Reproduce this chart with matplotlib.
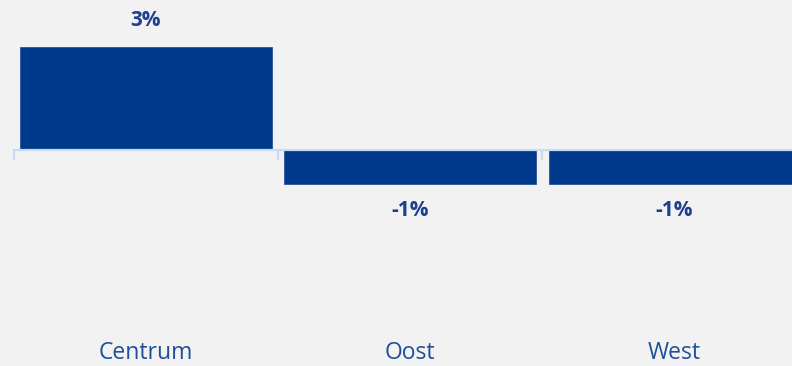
import numpy as np
import matplotlib.pyplot as plt

regios = ['Centrum', 'Oost', 'West']
groei = [3, -1, -1]
labels = ['3%', '-1%', '-1%']

bar_kleur = '#003A8C'
tekst_kleur = '#1F3F8F'
as_kleur = '#C9DCF5'
achtergrond = '#F2F2F2'

fig = plt.figure(figsize=(7.92, 3.66), dpi=100, facecolor=achtergrond)
# de as loopt bewust iets voorbij de rechterrand
ax = fig.add_axes([13.7 / 792, 0, 793 / 792, 1])
ax.set_facecolor(achtergrond)

x = np.arange(len(regios))
ax.bar(x, groei, width=0.952, color=bar_kleur, edgecolor='#2A5298', linewidth=0.6, zorder=2)

ax.set_xlim(-0.5, 2.5)
schaal = 34.3
ax.set_ylim(-216 / schaal, 150 / schaal)

for s in ['top', 'right', 'left']:
    ax.spines[s].set_visible(False)
ax.spines['bottom'].set_position(('data', 0))
ax.spines['bottom'].set_color(as_kleur)
ax.spines['bottom'].set_linewidth(1.6)
ax.set_yticks([])
ax.set_xticks([-0.5, 0.5, 1.5, 2.5])
ax.tick_params(axis='x', length=7, width=1.6, color=as_kleur, labelbottom=False)

for i, v in enumerate(groei):
    dy = 27 if v >= 0 else -26
    ax.annotate(labels[i], (i, v), textcoords='offset pixels', xytext=(0, dy),
                ha='center', va='center', fontsize=15, fontweight='bold',
                family='Open Sans', color=tekst_kleur)

# categorienamen onder de grafiek
for i, naam in enumerate(regios):
    ax.text(i, -(353 - 150) / schaal, naam, ha='center', va='center',
            fontsize=16.5, family='Open Sans', color='#1F4E9A')

plt.savefig('out.png', dpi=100, facecolor=achtergrond)
